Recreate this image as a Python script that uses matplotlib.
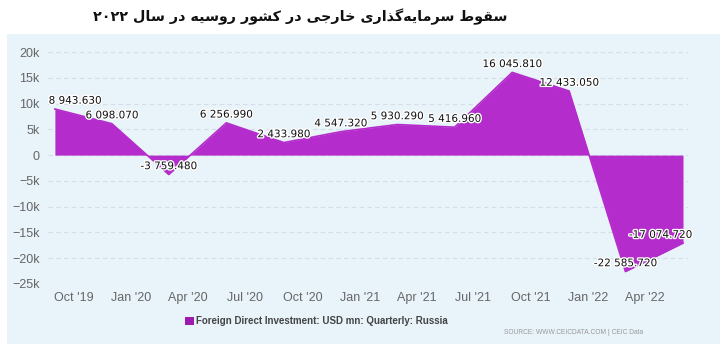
import datetime as dt
import matplotlib
matplotlib.use("Agg")
import matplotlib.pyplot as plt
import matplotlib.dates as mdates
import matplotlib.patheffects as pe
from matplotlib.patches import Rectangle, Patch

# data (USD mn, quarterly)
periods = ["2019-09", "2019-12", "2020-03", "2020-06", "2020-09", "2020-12",
           "2021-03", "2021-06", "2021-09", "2021-12", "2022-03", "2022-06"]
fdi = [8943.63, 6098.07, -3759.48, 6256.99, 2433.98, 4547.32,
       5930.29, 5416.96, 16045.81, 12433.05, -22585.72, -17074.72]
tick_months = ["2019-10", "2020-01", "2020-04", "2020-07", "2020-10", "2021-01",
               "2021-04", "2021-07", "2021-10", "2022-01", "2022-04"]
tick_labels = ["Oct '19", "Jan '20", "Apr '20", "Jul '20", "Oct '20", "Jan '21",
               "Apr '21", "Jul '21", "Oct '21", "Jan '22", "Apr '22"]
y_ticks = [-25000, -20000, -15000, -10000, -5000, 0, 5000, 10000, 15000, 20000]
y_labels = ["\u221225k", "\u221220k", "\u221215k", "\u221210k", "\u22125k", "0",
            "5k", "10k", "15k", "20k"]
title = "سقوط سرمایه\u200cگذاری خارجی در کشور روسیه در سال ۲۰۲۲"
series_name = "Foreign Direct Investment: USD mn: Quarterly: Russia"
source = "SOURCE: WWW.CEICDATA.COM | CEIC Data"

# --- tiny arabic/persian shaper (matplotlib has no text shaping)
FORMS = {
    "ا": ("\uFE8D", "\uFE8E", None, None),
    "ج": ("\uFE9D", "\uFE9E", "\uFE9F", "\uFEA0"),
    "خ": ("\uFEA5", "\uFEA6", "\uFEA7", "\uFEA8"),
    "د": ("\uFEA9", "\uFEAA", None, None),
    "ذ": ("\uFEAB", "\uFEAC", None, None),
    "ر": ("\uFEAD", "\uFEAE", None, None),
    "س": ("\uFEB1", "\uFEB2", "\uFEB3", "\uFEB4"),
    "ش": ("\uFEB5", "\uFEB6", "\uFEB7", "\uFEB8"),
    "ط": ("\uFEC1", "\uFEC2", "\uFEC3", "\uFEC4"),
    "ق": ("\uFED5", "\uFED6", "\uFED7", "\uFED8"),
    "ل": ("\uFEDD", "\uFEDE", "\uFEDF", "\uFEE0"),
    "م": ("\uFEE1", "\uFEE2", "\uFEE3", "\uFEE4"),
    "ه": ("\uFEE9", "\uFEEA", "\uFEEB", "\uFEEC"),
    "و": ("\uFEED", "\uFEEE", None, None),
    "ی": ("\uFBFC", "\uFBFD", "\uFBFE", "\uFBFF"),
    "ک": ("\uFB8E", "\uFB8F", "\uFB90", "\uFB91"),
    "گ": ("\uFB92", "\uFB93", "\uFB94", "\uFB95"),
}


def shape_word(word):
    out = []
    for i, c in enumerate(word):
        if c not in FORMS:
            if c != "\u200c":
                out.append(c)
            continue
        prev = word[i - 1] if i > 0 else None
        nxt = word[i + 1] if i + 1 < len(word) else None
        join_prev = prev in FORMS and FORMS[prev][2] is not None
        join_next = nxt in FORMS and FORMS[c][2] is not None
        iso, fin, ini, med = FORMS[c]
        if join_prev and join_next:
            out.append(med)
        elif join_prev:
            out.append(fin)
        elif join_next:
            out.append(ini)
        else:
            out.append(iso)
    return "".join(out)[::-1]


def rtl(text):
    words = text.split(" ")
    shaped = [w if w.isdigit() else shape_word(w) for w in words]
    return " ".join(reversed(shaped))


W, H = 723, 354
fig = plt.figure(figsize=(W / 100, H / 100), dpi=100)
fig.patch.set_facecolor("white")
bg = "#e8f3fa"
fig.patches.append(Rectangle((7 / W, 1 - 344 / H), 713 / W, 310 / H,
                             transform=fig.transFigure, facecolor=bg,
                             edgecolor="none", zorder=-5))

fig.text(300 / W, 1 - 17 / H, rtl(title), ha="center", va="center",
         fontsize=10.3, fontweight="bold", family=["DejaVu Sans"], color="#111111")

ax = fig.add_axes([48 / W, 1 - 284 / H, 640 / W, 232 / H])
ax.set_zorder(2)
ax.patch.set_alpha(0)

x = [dt.date(int(p[:4]), int(p[5:]), 1) for p in periods]
xn = mdates.date2num(x)
purple = "#b42ccc"
ax.fill_between(xn, fdi, 0, color=purple, linewidth=0, zorder=2)
ax.plot(xn, fdi, color=purple, lw=1.2, zorder=3)

ax.set_xlim(xn[0] - 11, xn[-1] + 8)
ax.set_ylim(-25000, 20000)
ax.set_yticks(y_ticks)
ax.set_yticklabels(y_labels)
ticks = mdates.date2num([dt.date(int(m[:4]), int(m[5:]), 1) for m in tick_months])
ax.set_xticks(ticks)
ax.set_xticklabels(tick_labels)
ax.tick_params(axis="both", length=0, labelsize=9, colors="#666666",
               labelfontfamily="Liberation Sans")
ax.tick_params(axis="x", pad=6)
ax.tick_params(axis="y", pad=6)
ax.grid(axis="y", color="#d5dde6", linestyle=(0, (4, 3)), lw=0.8, zorder=1)
for s in ax.spines.values():
    s.set_visible(False)

halo = [pe.withStroke(linewidth=2, foreground="white")]
last = len(fdi) - 1
for i, (xx, v) in enumerate(zip(xn, fdi)):
    lab = f"{v:,.3f}".replace(",", " ")
    ha, dx = "center", 0
    if i == 0:
        ha, dx = "left", -4.5
    elif i == last:
        ha, dx = "right", 6.5
    ax.annotate(lab, (xx, v), xytext=(dx, 6), textcoords="offset points",
                ha=ha, va="center", fontsize=7.5, color="#111111",
                family=["DejaVu Sans"], path_effects=halo, zorder=5)

fig.legend(handles=[Patch(facecolor="#9c1aae", edgecolor="none")],
           labels=[series_name], loc="center left",
           bbox_to_anchor=(176 / W, 1 - 321 / H), frameon=False,
           handlelength=0.9, handleheight=0.9, handletextpad=0.3,
           prop={"family": "Liberation Sans", "size": 7, "weight": "bold"},
           labelcolor="#444444")

fig.text(643 / W, 1 - 332 / H, source, ha="right", va="center",
         fontsize=4.8, color="#999999", family=["Liberation Sans"])

fig.savefig("out.png", dpi=100)
